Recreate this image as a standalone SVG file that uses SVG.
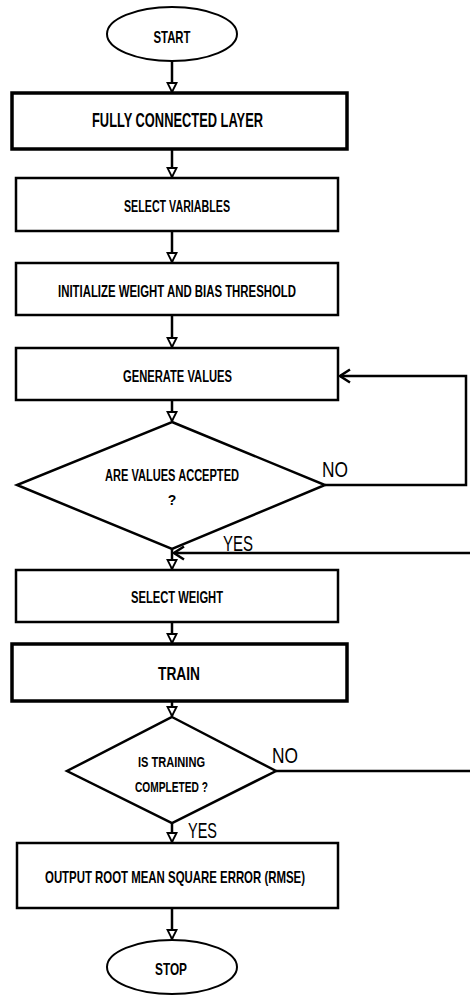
<svg xmlns="http://www.w3.org/2000/svg" width="470" height="996" viewBox="0 0 470 996">
<style>
.box{fill:#fff;stroke:#000;stroke-width:2.5}
.thick{fill:#fff;stroke:#000;stroke-width:3.5}
.term{fill:#fff;stroke:#000;stroke-width:2}
.ln{fill:none;stroke:#000;stroke-width:2.5}
.t{font-family:"Liberation Sans",Arial,sans-serif;font-weight:bold;fill:#000;text-anchor:middle}
.lbl{font-family:"Liberation Sans",Arial,sans-serif;fill:#000;font-size:22px}
</style>
<defs>
<marker id="tri" markerUnits="userSpaceOnUse" markerWidth="12" markerHeight="12" viewBox="-1 -6 11 12" refX="9" refY="0" orient="auto">
<path d="M0,-4.5 L9,0 L0,4.5 Z" fill="#fff" stroke="#000" stroke-width="1.8"/>
</marker>
<marker id="chev" markerUnits="userSpaceOnUse" markerWidth="14" markerHeight="16" viewBox="-12 -8 14 16" refX="0" refY="0" orient="auto">
<path d="M-10,-6.5 L0,0 L-10,6.5" fill="none" stroke="#000" stroke-width="2.5"/>
</marker>
</defs>
<g id="connectors">
<line class="ln" x1="172" y1="61" x2="172" y2="92" marker-end="url(#tri)"/>
<line class="ln" x1="172" y1="150" x2="172" y2="177" marker-end="url(#tri)"/>
<line class="ln" x1="172" y1="232" x2="172" y2="262" marker-end="url(#tri)"/>
<line class="ln" x1="172" y1="316" x2="172" y2="347" marker-end="url(#tri)"/>
<line class="ln" x1="172" y1="401" x2="172" y2="421" marker-end="url(#tri)"/>
<polyline class="ln" points="325,485 466,485 466,376 340,376" marker-end="url(#chev)"/>
<line class="ln" x1="472" y1="553" x2="174" y2="553" marker-end="url(#chev)"/>
<line class="ln" x1="172" y1="549" x2="172" y2="569" marker-end="url(#tri)"/>
<line class="ln" x1="172" y1="623" x2="172" y2="643" marker-end="url(#tri)"/>
<line class="ln" x1="172" y1="702" x2="172" y2="716" marker-end="url(#tri)"/>
<line class="ln" x1="276" y1="771" x2="472" y2="771"/>
<line class="ln" x1="172" y1="823" x2="172" y2="842" marker-end="url(#tri)"/>
<line class="ln" x1="172" y1="909" x2="172" y2="939" marker-end="url(#tri)"/>
<text class="lbl" x="322" y="477" textLength="26" lengthAdjust="spacingAndGlyphs">NO</text>
<text class="lbl" x="223" y="551" textLength="30" lengthAdjust="spacingAndGlyphs">YES</text>
<text class="lbl" x="272" y="763" textLength="26" lengthAdjust="spacingAndGlyphs">NO</text>
<text class="lbl" x="188" y="838" textLength="29" lengthAdjust="spacingAndGlyphs">YES</text>
</g>
<g id="start">
<ellipse class="term" cx="172" cy="34" rx="65" ry="27"/>
<text class="t" x="172" y="43" font-size="17" textLength="37" lengthAdjust="spacingAndGlyphs">START</text>
</g>
<g id="fully-connected">
<rect class="thick" x="12" y="93" width="335" height="56"/>
<text class="t" x="177.5" y="127" font-size="20" textLength="171" lengthAdjust="spacingAndGlyphs">FULLY CONNECTED LAYER</text>
</g>
<g id="select-variables">
<rect class="box" x="16" y="178" width="322" height="53"/>
<text class="t" x="177" y="212" font-size="16" textLength="106" lengthAdjust="spacingAndGlyphs">SELECT VARIABLES</text>
</g>
<g id="initialize">
<rect class="box" x="16" y="263" width="322" height="52"/>
<text class="t" x="177" y="297" font-size="16" textLength="238" lengthAdjust="spacingAndGlyphs">INITIALIZE WEIGHT AND BIAS THRESHOLD</text>
</g>
<g id="generate-values">
<rect class="box" x="16" y="348" width="322" height="52"/>
<text class="t" x="177.5" y="382" font-size="16" textLength="109" lengthAdjust="spacingAndGlyphs">GENERATE VALUES</text>
</g>
<g id="values-accepted">
<polygon class="box" points="172,422 325,485 172,549 17,485"/>
<text class="t" x="172" y="481" font-size="16" textLength="134" lengthAdjust="spacingAndGlyphs">ARE VALUES ACCEPTED</text>
<text class="t" x="172" y="505" font-size="14" font-weight="normal">?</text>
</g>
<g id="select-weight">
<rect class="box" x="16" y="570" width="322" height="52"/>
<text class="t" x="177" y="603" font-size="16" textLength="92" lengthAdjust="spacingAndGlyphs">SELECT WEIGHT</text>
</g>
<g id="train">
<rect class="thick" x="12" y="644" width="335" height="57"/>
<text class="t" x="179" y="680" font-size="19" textLength="42" lengthAdjust="spacingAndGlyphs">TRAIN</text>
</g>
<g id="training-completed">
<polygon class="box" points="172,717 276,771 172,823 67,771"/>
<text class="t" x="171.5" y="767" font-size="15" textLength="67" lengthAdjust="spacingAndGlyphs">IS TRAINING</text>
<text class="t" x="171.5" y="792" font-size="15" textLength="73" lengthAdjust="spacingAndGlyphs">COMPLETED ?</text>
</g>
<g id="output-rmse">
<rect class="box" x="17" y="843" width="321" height="65"/>
<text class="t" x="175" y="883" font-size="17" textLength="260" lengthAdjust="spacingAndGlyphs">OUTPUT ROOT MEAN SQUARE ERROR (RMSE)</text>
</g>
<g id="stop">
<ellipse class="term" cx="172" cy="967" rx="65" ry="27"/>
<text class="t" x="171" y="975" font-size="17" textLength="32" lengthAdjust="spacingAndGlyphs">STOP</text>
</g>
</svg>
